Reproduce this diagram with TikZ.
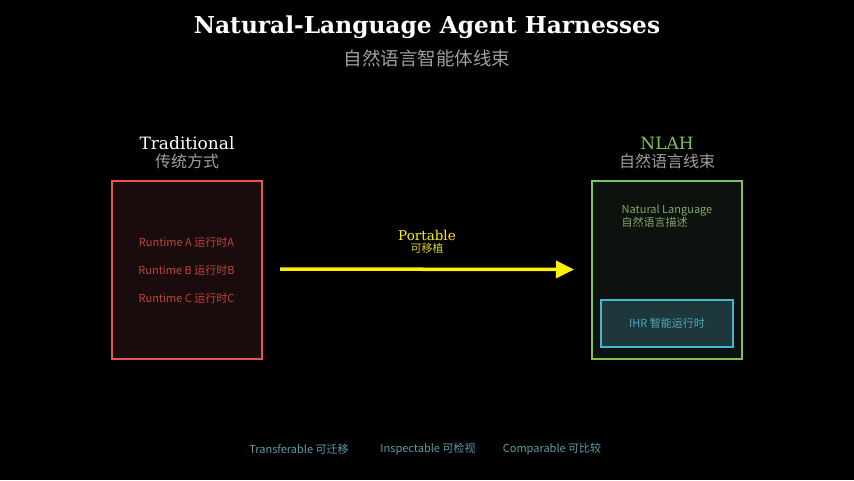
\documentclass[tikz,border=0pt]{standalone}
\usepackage{fontspec}
\setmainfont{DejaVu Serif}
\newfontfamily\sans{Noto Sans CJK SC}
\usetikzlibrary{arrows.meta}
\definecolor{redb}{HTML}{E8574A}
\definecolor{greenb}{HTML}{7CC35A}
\definecolor{cyanb}{HTML}{3FB8D0}
\begin{document}
\begin{tikzpicture}[x=1pt,y=-1pt,
  cn/.style={font=\sans\fontsize{16}{16}\selectfont, text=gray!75},
  sm/.style={font=\sans\fontsize{11}{11}\selectfont},
  hd/.style={font=\fontsize{17}{17}\selectfont}]
\fill[black] (0,0) rectangle (854,480);
\useasboundingbox (0,0) rectangle (854,480);
\node[font=\bfseries\fontsize{23.3}{23}\selectfont, text=white] (title) at (427,27) {Natural-Language Agent Harnesses};
\node[cn, font=\sans\fontsize{18.5}{18.5}\selectfont] (sub) at (427,58) {自然语言智能体线束};
\node[hd, text=white] (tl) at (187,143) {Traditional};
\node[cn] (tlc) at (187,161) {传统方式};
\node[hd, text=greenb] (nl) at (667,143) {NLAH};
\node[cn] (nlc) at (667,161) {自然语言线束};
\node[draw=redb, line width=2pt, fill={rgb,255:red,26;green,12;blue,12}, minimum width=150pt, minimum height=178pt] (trad) at (186.5,269.5) {};
\node[sm, text=redb!80!black] (ra) at (186.5,242) {Runtime A 运行时A};
\node[sm, text=redb!80!black] (rb) at (186.5,270) {Runtime B 运行时B};
\node[sm, text=redb!80!black] (rc) at (186.5,298) {Runtime C 运行时C};
\node[draw=greenb, line width=2pt, fill={rgb,255:red,14;green,18;blue,14}, minimum width=150pt, minimum height=178pt] (nlah) at (667,269.5) {};
\node[sm, text=greenb!60!gray, align=left, font=\sans\fontsize{11}{9.5}\selectfont] (nlt) at (667,216) {Natural Language\\自然语言描述};
\node[draw=cyanb, line width=2pt, fill={rgb,255:red,30;green,55;blue,58}, minimum width=132pt, minimum height=47pt, sm, text=cyanb!75!gray] (ihr) at (667,323.5) {IHR 智能运行时};
\coordinate (as) at (280,269);
\node[font=\fontsize{13.5}{14}\selectfont, text=yellow] (port) at (427,235) {Portable};
\node[sm, text=yellow!85!black] (portc) at (427,248) {可移植};
\draw[yellow, line width=3.5pt, -{Triangle[length=18pt,width=17pt]}] (as) -- (nlah.west -| 574,269);
\node[sm, text=cyanb!55!gray] (f1) at (299,449) {Transferable 可迁移};
\node[sm, text=cyanb!55!gray] (f2) at (428,449) {Inspectable 可检视};
\node[sm, text=cyanb!55!gray] (f3) at (552,449) {Comparable 可比较};
\end{tikzpicture}
\end{document}
